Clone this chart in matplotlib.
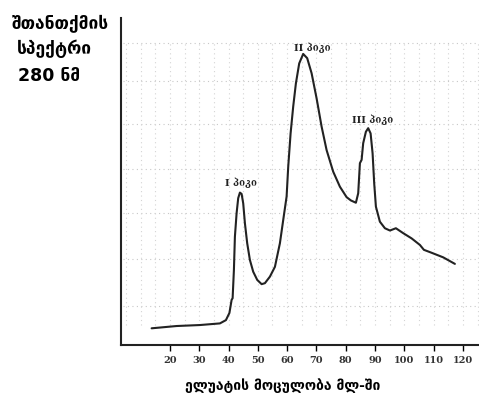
import matplotlib.pyplot as plt
import numpy as np

# Elution profile, absorbance at 280 nm vs eluate volume (ml)
volume = [13.75, 22.29, 30.24, 37.06, 39.11, 40.31, 41.06, 41.40, 41.84,
          42.18, 42.76, 43.31, 43.89, 44.47, 45.02, 45.60, 46.38, 47.30,
          48.43, 49.80, 51.30, 52.42, 54.13, 55.84, 57.54, 58.67, 59.83,
          60.38, 61.19, 62.08, 63.00, 64.13, 65.49, 66.86, 68.36, 70.07,
          71.77, 73.48, 75.73, 78.02, 80.31, 81.77, 83.48, 84.27, 84.85,
          85.43, 85.97, 86.89, 87.68, 88.50, 89.18, 89.73, 90.31, 91.67,
          93.38, 95.09, 97.13, 99.62, 102.49, 105.32, 106.69, 109.32,
          113.28, 117.27]
absorb = [0.051, 0.058, 0.061, 0.066, 0.076, 0.098, 0.138, 0.143, 0.229,
          0.331, 0.403, 0.449, 0.466, 0.462, 0.433, 0.372, 0.311, 0.260,
          0.224, 0.199, 0.186, 0.189, 0.209, 0.239, 0.311, 0.382, 0.454,
          0.545, 0.647, 0.729, 0.800, 0.861, 0.890, 0.877, 0.831, 0.754,
          0.668, 0.596, 0.530, 0.484, 0.452, 0.442, 0.435, 0.464, 0.556,
          0.566, 0.617, 0.652, 0.663, 0.647, 0.586, 0.494, 0.423, 0.377,
          0.357, 0.350, 0.357, 0.342, 0.326, 0.306, 0.291, 0.282, 0.268,
          0.248]

xticks = [20, 30, 40, 50, 60, 70, 80, 90, 100, 110, 120]
peak_names = ["I პიკი", "II პიკი", "III პიკი"]
peak_pos = [(44.2, 0.495), (68.5, 0.908), (89.3, 0.688)]

# faint dotted paper grid
grid_y = [0.924, 0.807, 0.676, 0.538, 0.404, 0.263, 0.119]
grid_x = np.arange(5, 126, 5)

fig = plt.figure(figsize=(4.79, 3.94), dpi=100)
ax = fig.add_axes([0.2526, 0.1244, 0.7474, 0.830])

ax.hlines(grid_y, 4, 125, colors="#c8c8c8", linestyles=(0, (1, 3)), lw=0.8)
ax.vlines(grid_x, 0.06, 0.93, colors="#d4d4d4", linestyles=(0, (1, 3)), lw=0.8)

ax.plot(volume, absorb, color="#222222", lw=1.5, solid_joinstyle="round",
        solid_capstyle="round")

for name, (px, py) in zip(peak_names, peak_pos):
    ax.text(px, py, name, ha="center", va="center", fontsize=7,
            family="DejaVu Serif", fontweight="bold", color="#222222")

ax.set_xlim(3.3, 125.5)
ax.set_ylim(0, 1)
ax.set_xticks(xticks)
ax.set_xticklabels([str(t) for t in xticks], family="DejaVu Serif",
                   fontweight="bold", fontsize=7, color="#333333")
ax.tick_params(axis="x", length=4, width=1, pad=4)
ax.set_yticks([])
for s in ["top", "right"]:
    ax.spines[s].set_visible(False)
for s in ["left", "bottom"]:
    ax.spines[s].set_linewidth(1.5)
    ax.spines[s].set_color("#222222")

ax.set_xlabel("ელუატის მოცულობა მლ-ში", fontsize=10, fontweight="bold")
ax.xaxis.set_label_coords(0.4525, -0.125)
ax.xaxis.label.set_va("center")

fig.text(0.125, 0.939, "შთანთქმის", ha="center", va="center",
         fontsize=12.5, fontweight="bold")
fig.text(0.113, 0.877, "სპექტრი", ha="center", va="center",
         fontsize=12.5, fontweight="bold")
fig.text(0.102, 0.806, "280 ნმ", ha="center", va="center",
         fontsize=12.5, fontweight="bold")

fig.savefig("out.png", dpi=100)
